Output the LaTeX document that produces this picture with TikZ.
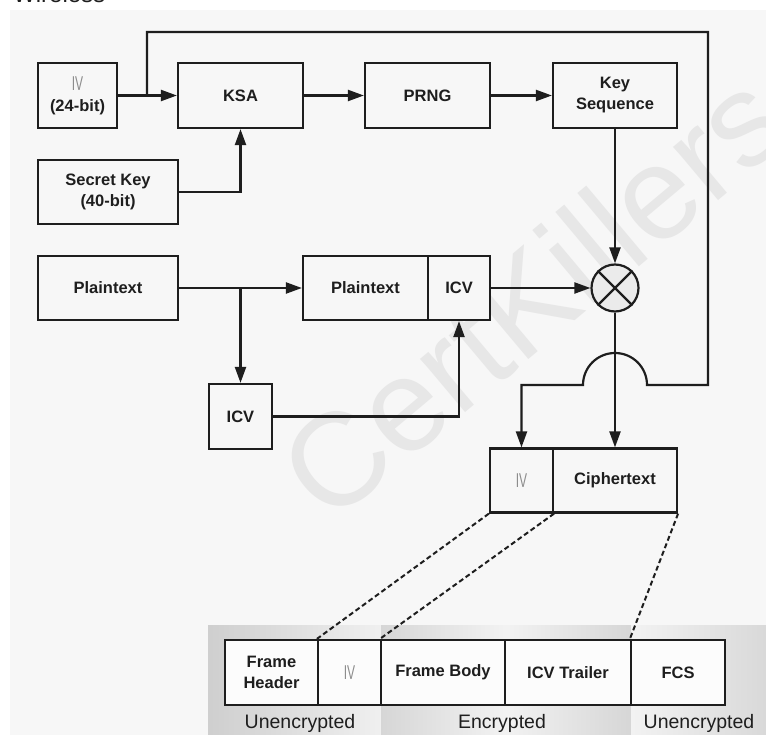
\documentclass[tikz,border=0pt]{standalone}
\usepackage{fontspec}
\setmainfont{Liberation Sans}
\usetikzlibrary{arrows.meta,shapes.geometric}
\definecolor{bgc}{HTML}{F7F7F7}
\definecolor{ln}{HTML}{1E1E1E}
\definecolor{wmc}{HTML}{E7E7E7}
\newcommand{\ivlabel}{{\color{gray!90}\mdseries\fontsize{20}{21}\selectfont\scalebox{0.6}[1]{IV}}}
\begin{document}
\begin{tikzpicture}[x=1pt,y=-1pt,
  box/.style={draw=ln,line width=2.2pt,fill=bgc,rectangle,inner sep=0pt,align=center,
    text=ln,font=\fontsize{16.5}{21}\selectfont\bfseries},
  wire/.style={draw=ln,line width=2.2pt},
  arr/.style={wire,-{Triangle[length=16pt,width=11pt]}},
  dline/.style={draw=ln,line width=2pt,dash pattern=on 5pt off 3pt},
  lab/.style={font=\fontsize{19.5}{20}\selectfont,text=ln,inner sep=0pt,anchor=base}
]
\useasboundingbox (0,0) rectangle (766,735);
\fill[white] (0,0) rectangle (766,735);
\fill[bgc] (10,10) rectangle (766,735);
\begin{scope}
\clip (0,0) rectangle (766,735);
\node[anchor=base west,font=\fontsize{24}{24}\selectfont,text=ln,inner sep=0pt] (title) at (13,2.5) {Wireless};
\end{scope}

% watermark
\node[rotate=40,font=\fontsize{132}{132}\selectfont,text=wmc,inner sep=0pt] (wmark) at (532,295) {CertKillers};

% bottom band
\shade[left color=gray!38, right color=gray!12] (208,625) rectangle (381,735);
\shade[left color=gray!32, right color=gray!10] (381,625) rectangle (506,735);
\shade[left color=gray!10, right color=gray!32] (506,625) rectangle (631,735);
\shade[left color=gray!10, right color=gray!30] (631,625) rectangle (766,735);

% top row
\node[box,minimum width=79pt,minimum height=65pt] (iv) at (77.5,95.5) {\ivlabel\\(24-bit)};
\node[box,minimum width=125pt,minimum height=65pt] (ksa) at (240.5,95.5) {KSA};
\node[box,minimum width=125pt,minimum height=65pt] (prng) at (427.5,95.5) {PRNG};
\node[box,minimum width=124pt,minimum height=65pt] (keyseq) at (615,95.5) {Key\\Sequence};
\node[box,minimum width=140pt,minimum height=64pt] (secret) at (108,192) {Secret Key\\(40-bit)};

% plaintext row
\node[box,minimum width=140pt,minimum height=64pt] (plain) at (108,288) {Plaintext};
\node[box,minimum width=125pt,minimum height=64pt] (pt2) at (365.5,288) {Plaintext};
\node[box,minimum width=62pt,minimum height=64pt] (icv2) at (459,288) {ICV};
\node[box,minimum width=63pt,minimum height=65pt] (icv) at (240.5,416.5) {ICV};
\node[circle,draw=ln,line width=2.2pt,fill=gray!16,minimum size=47pt,inner sep=0pt] (xor) at (615,288) {};
\draw[wire] (xor.north east) -- (xor.south west);
\draw[wire] (xor.north west) -- (xor.south east);

% cipher row
\node[box,minimum width=63pt,minimum height=64pt] (iv3) at (521.5,480.5) {\ivlabel};
\node[box,minimum width=124pt,minimum height=64pt] (ct) at (615,480.5) {Ciphertext};

% frame row
\node[box,fill=white!60!bgc,minimum width=93pt,minimum height=65pt] (fh) at (271.5,672.5) {Frame\\Header};
\node[box,fill=white!60!bgc,minimum width=63pt,minimum height=65pt] (fiv) at (349.5,672.5) {\ivlabel};
\node[box,fill=white!60!bgc,minimum width=124pt,minimum height=65pt] (fb) at (443,672.5) {Frame Body};
\node[box,fill=white!60!bgc,minimum width=126pt,minimum height=65pt] (icvt) at (568,672.5) {ICV Trailer};
\node[box,fill=white!60!bgc,minimum width=94pt,minimum height=65pt] (fcs) at (678,672.5) {FCS};

\node[lab] (u1) at (300,728) {Unencrypted};
\node[lab] (e1) at (502,728) {Encrypted};
\node[lab] (u2) at (699,728) {Unencrypted};

% connectors
\draw[arr] (iv) -- (ksa);
\draw[arr] (ksa) -- (prng);
\draw[arr] (prng) -- (keyseq);
\draw[arr] (secret.east) -| (ksa.south);
\draw[arr] (plain) -- (pt2);
\coordinate (br) at (240.5,288);
\draw[arr] (br) -- (icv.north);
\draw[arr] (icv.east) -| (icv2.south);
\draw[arr] (icv2.east) -- (xor.west);
\draw[arr] (keyseq.south) -- (xor.north);
\draw[arr] (xor.south) -- (ct.north);

\coordinate (j) at (147,95.5);
\coordinate (c1) at (147,32);
\coordinate (c2) at (708,32);
\coordinate (c3) at (708,385);
\coordinate (h1) at (647,385);
\coordinate (ht) at (615,353);
\coordinate (h2) at (583,385);
\coordinate (c4) at (521.5,385);
\draw[arr,line join=miter] (j) -- (c1) -- (c2) -- (c3) -- (h1)
  .. controls (647,367.3) and (632.7,353) .. (ht)
  .. controls (597.3,353) and (583,367.3) .. (h2) -- (c4) -- (iv3.north);

\draw[dline] (iv3.south west) -- (fiv.north west);
\draw[dline] (iv3.south east) -- (fb.north west);
\draw[dline] (ct.south east) -- (fcs.north west);
\end{tikzpicture}
\end{document}
